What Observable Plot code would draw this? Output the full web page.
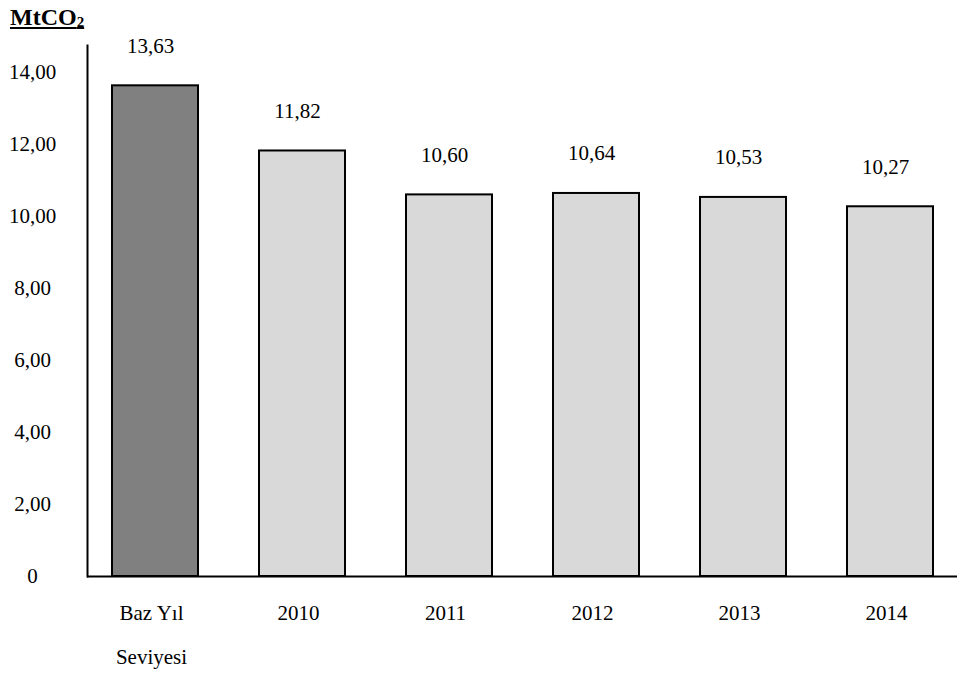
<!DOCTYPE html>
<html>
<head>
<meta charset="utf-8">
<script src="https://cdn.jsdelivr.net/npm/d3@7"></script>
<script src="https://cdn.jsdelivr.net/npm/@observablehq/plot@0.6"></script>
<style>
  body { margin: 0; background: #fff; font-family: "Liberation Serif", "Times New Roman", serif; }
  #title { height: 30px; padding-left: 10px; font-size: 24px; font-weight: bold; line-height: 34px; }
  #title span { text-decoration: underline; }
  #title sub { font-size: 15px; vertical-align: -2px; }
  svg { display: block; }
</style>
</head>
<body>
<div id="title"><span>MtCO<sub>2</sub></span></div>
<div id="chart"></div>
<script>
// Emissions by period, MtCO2
const categories = ["Baz Yıl\nSeviyesi", "2010", "2011", "2012", "2013", "2014"];
const emissions = [13.63, 11.82, 10.60, 10.64, 10.53, 10.27];
const yTicks = [0, 2, 4, 6, 8, 10, 12, 14];

const rows = categories.map((c, i) => ({category: c, value: emissions[i], base: i === 0}));
const comma = v => v === 0 ? "0" : v.toFixed(2).replace(".", ",");

const chart = Plot.plot({
  width: 957,
  height: 643,
  marginTop: 15,
  marginLeft: 87,
  marginRight: 0,
  marginBottom: 97,
  style: {fontFamily: "'Liberation Serif', 'Times New Roman', serif", fontSize: "21px", color: "#000", background: "#fff"},
  x: {domain: categories, paddingInner: 0.418, paddingOuter: 0.152, label: null},
  y: {domain: [0, 14.75], label: null},
  marks: [
    Plot.barY(rows, {
      x: "category", y: "value",
      fill: d => d.base ? "#808080" : "#d9d9d9",
      stroke: "#000", strokeWidth: 2
    }),
    Plot.text(rows, {
      x: "category", y: "value",
      text: d => comma(d.value),
      dy: -40, dx: -5, lineAnchor: "middle",
      fontSize: 21, fill: "#000"
    }),
    Plot.axisY({
      ticks: yTicks, tickFormat: comma, tickSize: 0,
      tickPadding: 55, textAnchor: "middle", dy: 0,
      fontSize: 21, label: null
    }),
    Plot.axisX({
      tickSize: 0, tickPadding: 12, lineHeight: 2.1,
      dx: -4, fontSize: 21, label: null
    }),
    Plot.frame({anchor: "left", stroke: "#000", strokeWidth: 2}),
    Plot.ruleY([0], {stroke: "#000", strokeWidth: 2})
  ]
});
document.getElementById("chart").append(chart);
</script>
</body>
</html>
